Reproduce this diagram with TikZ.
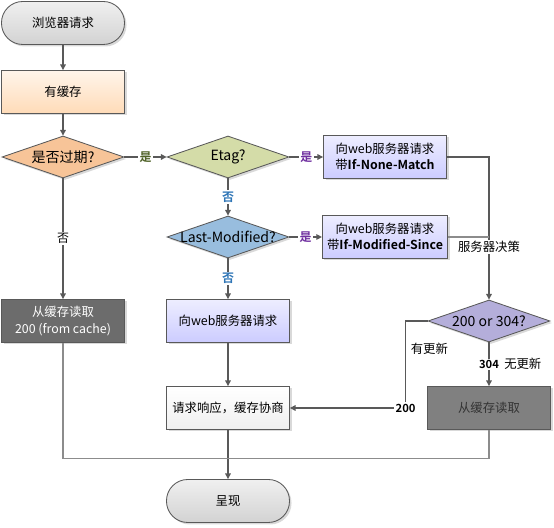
\documentclass[tikz,border=0pt]{standalone}
\usepackage{fontspec}
\setmainfont{Noto Sans CJK SC}[BoldFont={Noto Sans CJK SC Bold}]
\usepackage{tikz}
\usetikzlibrary{shapes.geometric,arrows.meta,shadows}

\definecolor{linegray}{HTML}{595959}
\definecolor{lightline}{HTML}{8C8C8C}
\definecolor{yesgreen}{HTML}{4F6228}
\definecolor{yespurple}{HTML}{7030A0}
\definecolor{noblue}{HTML}{2E75B6}

\newcommand{\nowidth}[1]{\makebox[0pt]{#1}}

\tikzset{
  base/.style={draw=linegray, line width=0.6pt, minimum width=3.075cm, minimum height=1.075cm,
    align=center, font=\fontsize{8.8}{11.5}\selectfont,
    drop shadow={opacity=0.3, shadow xshift=0.05cm, shadow yshift=-0.05cm}},
  terminal/.style={base, rounded corners=0.53cm, top color=gray!12, bottom color=gray!35},
  box/.style={base, rectangle},
  decision/.style={base, diamond, minimum width=3.05cm, minimum height=1.05cm, inner sep=0pt,
    aspect=2.9, font=\fontsize{10}{12}\selectfont},
  flow/.style={draw=linegray, line width=0.8pt, -{Triangle[length=4pt,width=4pt]}},
  link/.style={draw=lightline, line width=0.8pt},
  tag/.style={fill=white, inner sep=1pt, font=\bfseries\fontsize{8.5}{10}\selectfont},
  note/.style={font=\fontsize{8.8}{10}\selectfont}
}

\begin{document}
\begin{tikzpicture}
\useasboundingbox (0,0) rectangle (13.85,13.2);

\node[terminal] (start) at (1.575,12.625) {浏览器请求};
\node[box, top color=orange!8, bottom color=orange!28] (cache) at (1.575,10.9) {有缓存};
\node[decision, fill={rgb,255:red,247;green,196;blue,152}] (expired) at (1.575,9.275) {\nowidth{是否过期?}};
\node[decision, fill={rgb,255:red,212;green,220;blue,168}] (etag) at (5.7,9.275) {\nowidth{Etag?}};
\node[decision, fill={rgb,255:red,152;green,189;blue,222}] (lastmod) at (5.7,7.275) {\nowidth{Last-Modified?}};
\node[box, top color=blue!7, bottom color=blue!20] (nonematch) at (9.625,9.275)
  {向web服务器请求\\带\textbf{If-None-Match}};
\node[box, top color=blue!7, bottom color=blue!20] (modsince) at (9.625,7.275)
  {向web服务器请求\\带\textbf{If-Modified-Since}};

\node[box, fill={rgb,255:red,108;green,108;blue,108}, text=white] (readcache) at (1.575,5.175)
  {从缓存读取\\200 (from cache)};
\node[box, top color=blue!7, bottom color=blue!20] (request) at (5.7,5.175) {向web服务器请求};
\node[decision, fill={rgb,255:red,180;green,174;blue,218}] (decide) at (12.225,5.175) {\nowidth{200 or 304?}};
\node[box, top color=white, bottom color=gray!12] (negotiate) at (5.7,3.0) {请求响应，缓存协商};
\node[box, fill={rgb,255:red,128;green,128;blue,128}, text=black!80] (readcache2) at (12.225,3.0) {从缓存读取};
\node[terminal] (render) at (5.7,0.675) {呈现};

\draw[flow] (start) -- (cache);
\draw[flow] (cache) -- (expired);
\draw[flow] (expired) -- node[tag, text=yesgreen] {是} (etag);
\draw[flow] (expired) -- node[tag, font=\fontsize{8.5}{10}\selectfont] {否} (readcache);
\draw[flow] (etag) -- node[tag, text=yespurple] {是} (nonematch);
\draw[flow] (etag) -- node[tag, text=noblue] {否} (lastmod);
\draw[flow] (lastmod) -- node[tag, text=yespurple] {是} (modsince);
\draw[flow] (lastmod) -- node[tag, text=noblue] {否} (request);
\draw[flow] (request) -- (negotiate);
\draw[flow] (negotiate) -- (render);

\draw[flow] (nonematch.east) -| node[pos=0.815, fill=white, inner sep=1pt, note] {服务器决策} (decide.north);
\draw[link] (modsince.east) -- (modsince.east -| decide.north);
\draw[flow] (decide.west) -- ++(-0.55,0) |- node[pos=0.16, right, note] {有更新}
  node[pos=0.5, tag, font=\bfseries\fontsize{8}{9}\selectfont] {200} (negotiate.east);
\draw[flow] (decide) -- node[tag, font=\bfseries\fontsize{8}{9}\selectfont] {304}
  node[right=0.25cm, note] {无更新} (readcache2);

\draw[link] (readcache.south) -- ++(0,-2.9) -| (readcache2.south);
\end{tikzpicture}
\end{document}
